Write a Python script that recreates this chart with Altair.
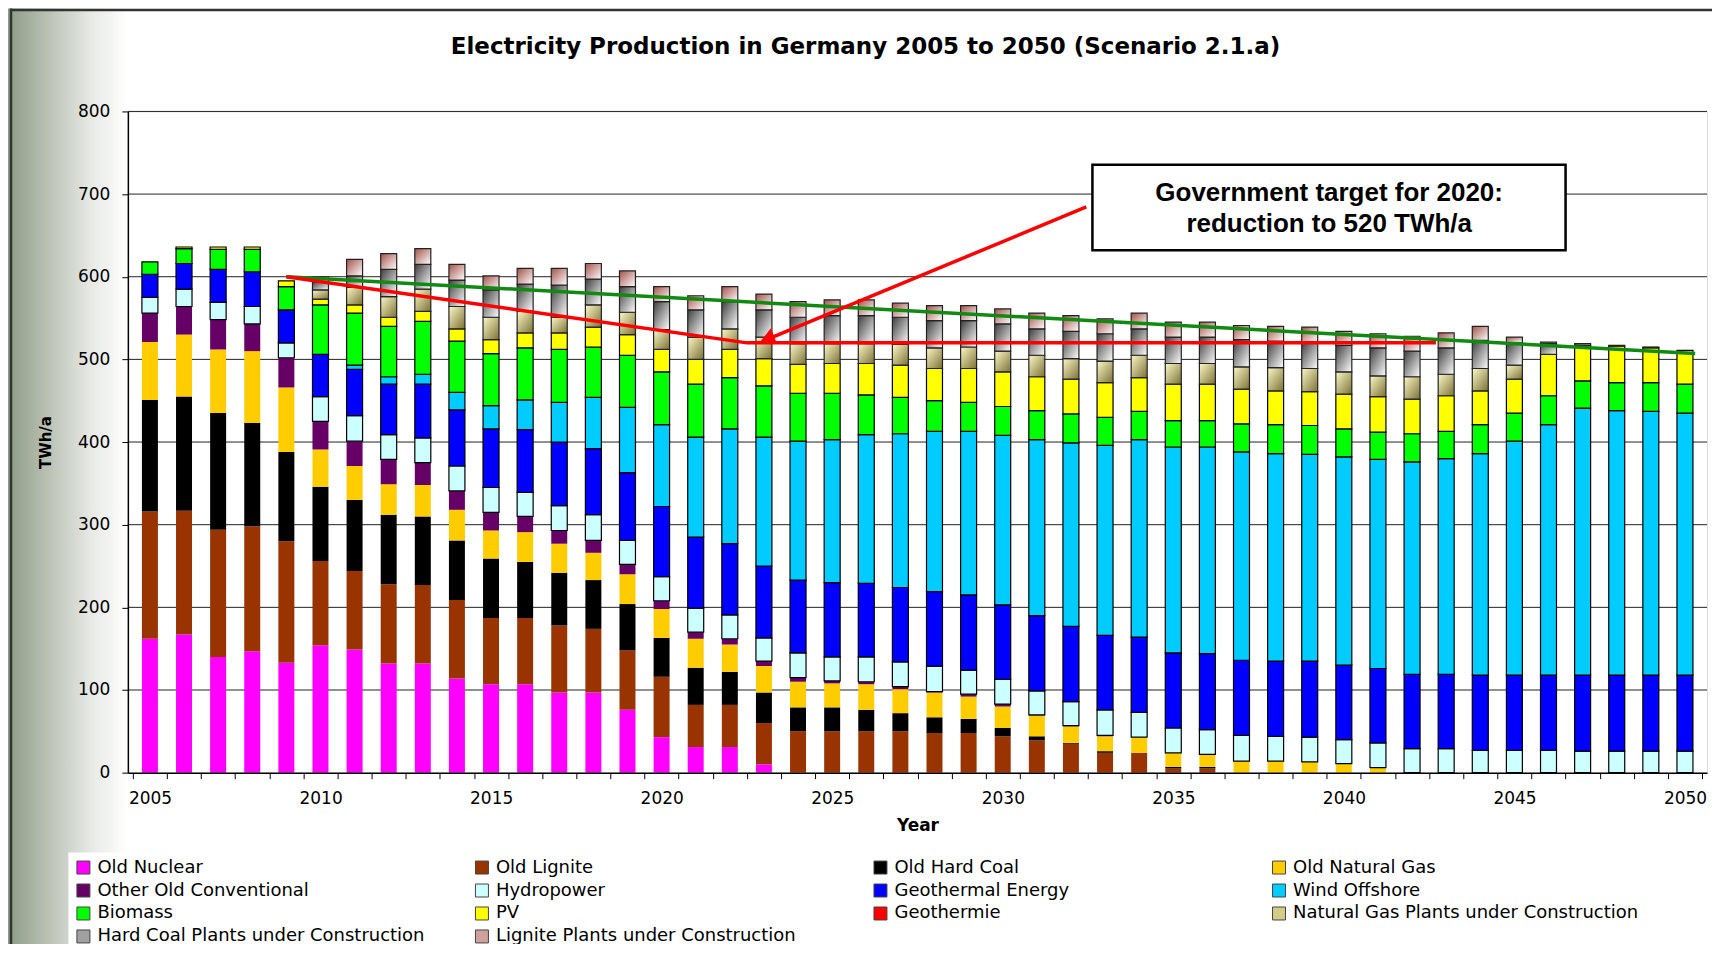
import altair as alt
import pandas as pd

FONT = "DejaVu Sans"
NOTE_FONT = "Liberation Sans"

years = list(range(2005, 2051))

series_names = [
    "Old Nuclear", "Old Lignite", "Old Hard Coal", "Old Natural Gas",
    "Other Old Conventional", "Hydropower", "Geothermal Energy", "Wind Offshore",
    "Biomass", "PV", "Geothermie", "Natural Gas Plants under Construction",
    "Hard Coal Plants under Construction", "Lignite Plants under Construction",
]

old_nuclear = [162, 167, 140, 147, 133, 154, 149, 132, 132, 114, 107, 107, 97, 97, 76, 43, 31, 31, 10] + [0] * 27
old_lignite = [154, 150, 154, 151, 147, 102, 95, 96, 95, 95, 80, 80, 81, 77, 72, 73, 51, 51, 50,
               50, 50, 50, 50, 48, 48, 44, 39, 35, 24, 24, 5, 5] + [0] * 14
old_hard_coal = [135, 138, 141, 125, 108, 90, 86, 84, 83, 72, 72, 68, 64, 59, 56, 47, 45, 40, 37,
                 29, 29, 26, 22, 19, 17, 10, 5, 1, 2, 0, 2, 2] + [0] * 14
old_natural_gas = [70, 75, 77, 87, 78, 45, 41, 37, 38, 37, 34, 36, 35, 33, 36, 35, 35, 33, 32,
                   31, 29, 31, 29, 30, 27, 26, 25, 20, 18, 19, 17, 15, 14, 14, 13, 11, 6] + [0] * 9
other_old_conventional = [35, 34, 36, 33, 36, 34, 30, 30, 27, 23, 22, 19, 16, 15, 12, 10, 8, 7, 6,
                          5, 3, 3, 3, 1, 3, 3, 1, 1, 1] + [0] * 17
hydropower = [19, 21, 21, 21, 18, 30, 31, 30, 30, 30, 30, 29, 30, 31, 29, 29, 29, 29, 28,
              30, 29, 30, 30, 31, 29, 30, 29, 29, 31, 30, 30, 30, 31, 30, 30, 29, 30, 29, 29,
              27, 27, 27, 26, 26, 26, 26]
geothermal_energy = [28, 31, 40, 42, 40, 51, 56, 61, 65, 68, 71, 76, 77, 80, 82, 85, 86, 86, 87,
                     88, 90, 89, 90, 90, 91, 90, 91, 91, 90, 91, 91, 92, 91, 91, 92, 90, 90, 90, 90,
                     91, 91, 91, 92, 92, 92, 92]
wind_offshore = [0, 0, 0, 0, 0, 0,
                 5, 9, 12, 21, 28, 36, 48, 62, 79, 99, 121, 139, 156,
                 168, 173, 180, 186, 194, 198, 205, 213, 222, 230, 239, 249, 250, 252, 251, 250,
                 252, 253, 257, 261,
                 268, 283, 303, 323, 320, 319, 317]
biomass = [15, 18, 24, 27, 28, 60, 63, 61, 64, 62, 63, 63, 64, 61, 63, 64, 64, 62, 62,
           58, 56, 48, 44, 37, 35, 35, 35, 35, 34, 34, 32, 32, 34, 35, 35, 34, 33, 34, 33,
           35, 34, 35, 33, 34, 35, 35]
pv = [0, 2, 3, 3, 7, 7, 10, 11, 12, 15, 17, 18, 20, 24, 25, 27, 30, 34, 33,
      35, 36, 38, 39, 39, 41, 42, 41, 42, 42, 41, 44, 44, 42, 41, 41, 42, 43, 42, 43,
      41, 41, 50, 43, 44, 42, 41]
geothermie = [0] * 46
gas_construction = [0, 0, 0, 0, 0,
                    11, 21, 25, 27, 27, 27, 26, 19, 27, 27, 24, 27, 25, 26,
                    25, 24, 24, 25, 25, 26, 25, 26, 25, 26, 27, 25, 25, 27, 28, 28, 27, 25, 27, 26,
                    27, 17, 0, 0, 0, 0, 0]
coal_construction = [0, 0, 0, 0, 0,
                     10, 14, 33, 30, 32, 33, 33, 39, 31, 31, 34, 33, 33, 33,
                     32, 34, 34, 33, 33, 32, 33, 32, 33, 33, 32, 32, 32, 33, 32, 32, 32, 34, 31, 32,
                     34, 27, 13, 2, 1, 1, 0]
lignite_construction = [0, 0, 0, 0, 0,
                        6, 20, 19, 19, 19, 17, 19, 20, 19, 19, 18, 17, 18, 19,
                        19, 19, 19, 17, 18, 18, 18, 19, 19, 18, 19, 18, 18, 17, 18, 18, 17, 17, 18, 18,
                        17, 7, 2, 0, 0, 0, 0]

all_series = [old_nuclear, old_lignite, old_hard_coal, old_natural_gas, other_old_conventional,
              hydropower, geothermal_energy, wind_offshore, biomass, pv, geothermie,
              gas_construction, coal_construction, lignite_construction]

series_colors = ["#FF00FF", "#993300", "#000000", "#FFCC00", "#660066", "#CCFFFF", "#0000FF",
                 "#00CCFF", "#00FF00", "#FFFF00", "#FF0000", "#D2CC8A", "#A0A0A0", "#CFA09C"]

title_text = "Electricity Production in Germany 2005 to 2050 (Scenario 2.1.a)"

# annotation data
grid_values = [100, 200, 300, 400, 500, 600, 700, 800]
target_x = [2009, 2022.5, 2042.7]
target_y = [600, 520, 520]
trend_x = [2009, 2050.3]
trend_y = [600, 507]
arrow_x = [2032.45, 2023.2]
arrow_y = [684.4, 526]
arrow_head_x = [2023.1]
arrow_head_y = [525.5]
box_x = [2032.63]
box_x2 = [2046.5]
box_y = [735.6]
box_y2 = [632.0]
note_lines = ["Government target for 2020:", "reduction to 520 TWh/a"]
note_x = [2039.57, 2039.57]
note_y = [700.8, 664.3]

rows = []
for i, (name, vals) in enumerate(zip(series_names, all_series)):
    for yr, v in zip(years, vals):
        rows.append({"year": yr, "series": name, "order": i, "value": v})
df = pd.DataFrame(rows)

W, H = 1581, 662

x_scale = alt.Scale(domain=[2004.5, 2050.5], nice=False, zero=False)
y_scale = alt.Scale(domain=[0, 800], nice=False, zero=True)

x_axis = alt.Axis(
    values=[2004.5 + i for i in range(47)],
    labelExpr="(datum.value + 0.5) % 5 == 0 ? format(datum.value + 0.5, 'd') : ''",
    labelOffset=17.2, labelFlush=False, labelOverlap=False, labelBound=False,
    tickSize=6, tickColor="black", tickWidth=1, domainColor="black", domainWidth=1.5,
    labelFont=FONT, labelFontSize=17, labelColor="black", labelPadding=12,
    title="Year", titleFont=FONT, titleFontSize=17, titleFontWeight="bold", titleColor="black",
    titleY=53, titleBaseline="middle", grid=False, zindex=1,
)
y_axis = alt.Axis(
    values=list(range(0, 801, 100)),
    tickSize=6, tickColor="black", tickWidth=1, domainColor="black", domainWidth=1.5,
    labelFont=FONT, labelFontSize=17, labelColor="black", labelPadding=12,
    title="TWh/a", titleFont=FONT, titleFontSize=15, titleFontWeight="bold", titleColor="black",
    titleX=-82, titleY=331, titleAngle=270, titleAlign="center", titleBaseline="middle",
    grid=False, zindex=1,
)


def X(field):
    return alt.X(f"{field}:Q", scale=x_scale, axis=x_axis)


def Y(field):
    return alt.Y(f"{field}:Q", scale=y_scale, axis=y_axis)


legend = alt.Legend(
    title=None, orient="none", legendX=-59.5, legendY=742, direction="horizontal",
    columns=4, gridAlign="all", columnPadding=30, rowPadding=5,
    symbolType="square", symbolSize=169, symbolStrokeWidth=1, symbolStrokeColor="#444444",
    labelFont=FONT, labelFontSize=18, labelColor="black", labelLimit=600, labelOffset=5,
    fillColor="white", padding=6,
)
color = alt.Color("series:N", scale=alt.Scale(domain=series_names, range=series_colors), legend=legend)

base = alt.Chart(df).transform_stack(
    stack="value", groupby=["year"], as_=["v0", "v1"],
    sort=[alt.SortField("order", order="ascending")],
).transform_filter("datum.value > 0")

lower = base.transform_filter("datum.order <= 4").mark_bar(size=16, strokeWidth=0).encode(
    x=X("year"), y=Y("v0"), y2="v1", color=color)
upper = base.transform_filter("datum.order >= 5 && datum.order <= 10").mark_bar(
    size=16, stroke="#000000", strokeWidth=1.2).encode(
    x=X("year"), y=Y("v0"), y2="v1", color=color)


def grad(c0, c1):
    return alt.LinearGradient(gradient="linear", x1=0, y1=0, x2=1, y2=1,
                              stops=[alt.GradientStop(color=c0, offset=0),
                                     alt.GradientStop(color=c1, offset=1)])


gas_c = base.transform_filter("datum.order == 11").mark_bar(
    size=16, fill=grad("#FCF8C6", "#7C7236"), stroke="#222222", strokeWidth=1.2).encode(
    x=X("year"), y=Y("v0"), y2="v1")
coal_c = base.transform_filter("datum.order == 12").mark_bar(
    size=16, fill=grad("#3E3E3E", "#FFFFFF"), stroke="#222222", strokeWidth=1.2).encode(
    x=X("year"), y=Y("v0"), y2="v1")
lig_c = base.transform_filter("datum.order == 13").mark_bar(
    size=16, fill=grad("#A4524A", "#FFFFFF"), stroke="#222222", strokeWidth=1.2).encode(
    x=X("year"), y=Y("v0"), y2="v1")

one = pd.DataFrame({"k": [0]})
side_band = alt.Chart(one).mark_rect(
    fill=alt.LinearGradient(gradient="linear", x1=0, y1=0, x2=1, y2=0,
                            stops=[alt.GradientStop(color="#8D9C85", offset=0),
                                   alt.GradientStop(color="#BCC3B6", offset=0.35),
                                   alt.GradientStop(color="#E8EAE6", offset=0.7),
                                   alt.GradientStop(color="#FFFFFF", offset=1)])).encode(
    x=alt.value(-120), x2=alt.value(0), y=alt.value(-103), y2=alt.value(840))
frame_left = alt.Chart(one).mark_rule(color="#333333", strokeWidth=2.5).encode(
    x=alt.value(-117), y=alt.value(-103), y2=alt.value(840))
frame_top = alt.Chart(one).mark_rule(color="#333333", strokeWidth=2.5).encode(
    x=alt.value(-117), x2=alt.value(1590), y=alt.value(-101.5))
title_mark = alt.Chart(pd.DataFrame({"t": [title_text]})).mark_text(
    font=FONT, fontSize=23, fontWeight="bold", color="black", align="center", baseline="middle").encode(
    x=alt.value(738.5), y=alt.value(-64.3), text="t:N")

grid = alt.Chart(pd.DataFrame({"v": grid_values})).mark_rule(color="#222222", strokeWidth=1).encode(
    y=Y("v"))

target_line = alt.Chart(pd.DataFrame({"lx": target_x, "ly": target_y})).mark_line(
    color="#FF0000", strokeWidth=3.5).encode(x=X("lx"), y=Y("ly"))
trend_line = alt.Chart(pd.DataFrame({"lx": trend_x, "ly": trend_y})).mark_line(
    color="#108A10", strokeWidth=3.5).encode(x=X("lx"), y=Y("ly"))
arrow_line = alt.Chart(pd.DataFrame({"lx": arrow_x, "ly": arrow_y})).mark_line(
    color="#FF0000", strokeWidth=3.5).encode(x=X("lx"), y=Y("ly"))
arrow_head = alt.Chart(pd.DataFrame({"lx": arrow_head_x, "ly": arrow_head_y})).mark_point(
    shape="triangle-up", filled=True, color="#FF0000", size=260, angle=248.6, opacity=1).encode(
    x=X("lx"), y=Y("ly"))

box = alt.Chart(pd.DataFrame({"bx": box_x, "bx2": box_x2, "by": box_y, "by2": box_y2})).mark_rect(
    fill="white", stroke="black", strokeWidth=2.5).encode(
    x=X("bx"), x2="bx2", y=Y("by"), y2="by2")
note = alt.Chart(pd.DataFrame({"tx": note_x, "ty": note_y, "t": note_lines})).mark_text(
    font=NOTE_FONT, fontSize=26, fontWeight="bold", color="black", align="center", baseline="middle").encode(
    x=X("tx"), y=Y("ty"), text="t:N")

chart = alt.layer(
    side_band, frame_left, frame_top, title_mark, grid,
    lower, upper, gas_c, coal_c, lig_c,
    trend_line, target_line, arrow_line, arrow_head, box, note,
).properties(
    width=W, height=H,
    autosize=alt.AutoSizeParams(type="none"),
    padding={"left": 120, "top": 103, "right": 5, "bottom": 171},
).configure_view(fill="#FFFFCC", stroke="#808080", strokeWidth=1).configure(background="white")

chart.save("out.html", embed_options={"renderer": "svg", "actions": False})
